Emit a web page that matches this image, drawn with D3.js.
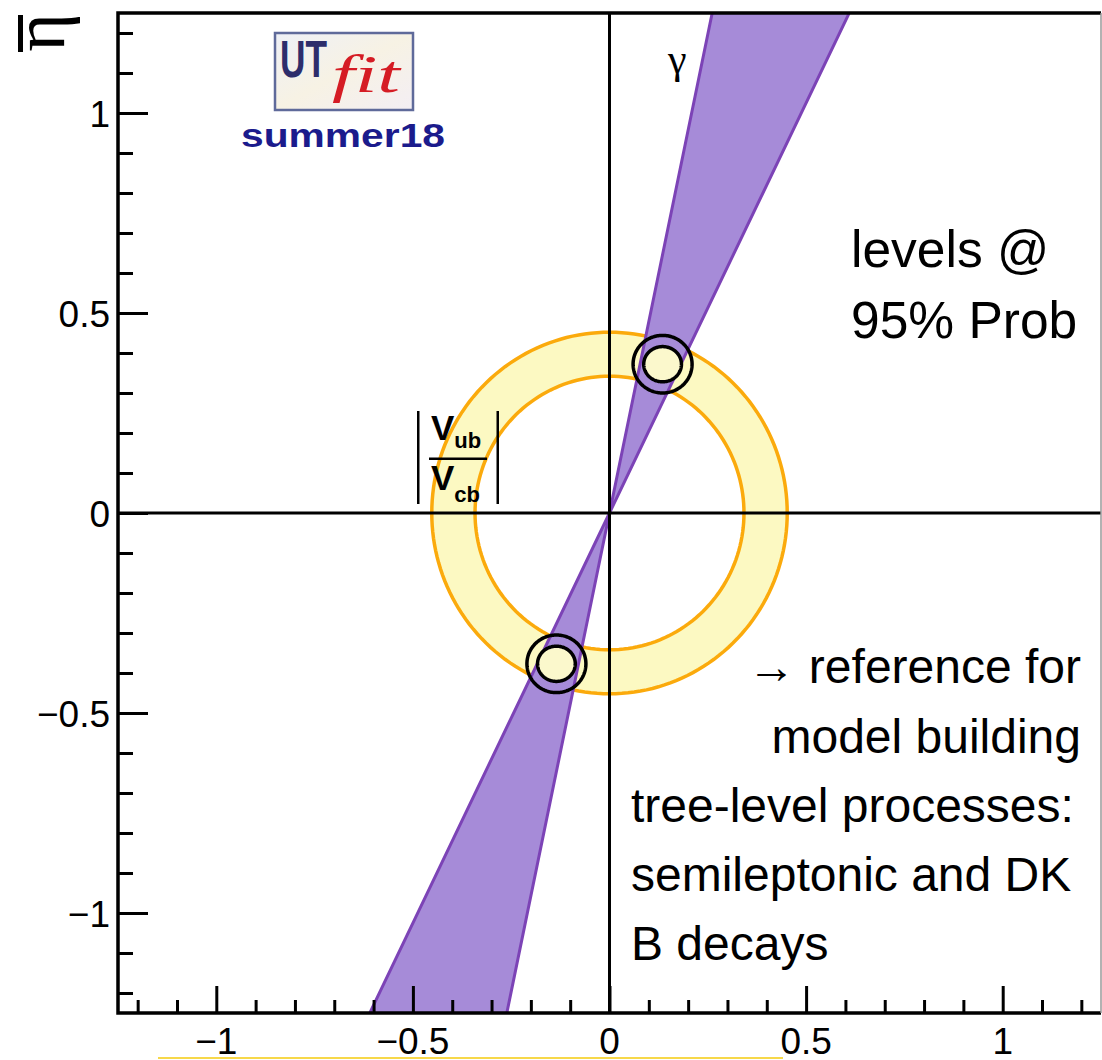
<!DOCTYPE html>
<html lang="en">
<head>
<meta charset="utf-8">
<title>UTfit summer18 - tree level</title>
<script src="https://d3js.org/d3.v7.min.js"></script>
<style>
  body { margin: 0; background: #fff; }
  svg { display: block; }
  text { font-family: "Liberation Sans", Arial, sans-serif; }
</style>
</head>
<body>
<div id="chart"></div>
<script>
// axis ticks
var majorTicks = [-1, -0.5, 0, 0.5, 1];
var tickLabels = ["\u22121", "\u22120.5", "0", "0.5", "1"];
var minorTicks = [-1.2, -1.1, -0.9, -0.8, -0.7, -0.6, -0.4, -0.3, -0.2, -0.1,
                  0.1, 0.2, 0.3, 0.4, 0.6, 0.7, 0.8, 0.9, 1.1, 1.2];

// |Vub/Vcb| ring (inner / outer radius) and gamma band (degrees)
var vubRadii = [0.342, 0.452];
var gammaDeg = [64.0, 78.2];

// combined contours: centres and radii (rx, ry) of outer / inner line
var contourCenters = [[0.135, 0.372], [-0.135, -0.377]];
var contourRx = [0.075, 0.048];
var contourRy = [0.072, 0.044];

// annotations
var notesTop = ["levels @", "95% Prob"];
var notesRight = ["\u2192 reference for", "model building"];
var notesLeft = ["tree-level processes:", "semileptonic and DK", "B decays"];

var width = 1102, height = 1060;
var pLeft = 118, pRight = 1101, pTop = 13, pBottom = 1013;

var svg = d3.select("#chart").append("svg")
    .attr("width", width)
    .attr("height", height);

var x = d3.scaleLinear().domain([-1.25, 1.25]).range([pLeft, pRight]);
var y = d3.scaleLinear().domain([-1.25, 1.25]).range([pBottom, pTop]);

var defs = svg.append("defs");
defs.append("clipPath").attr("id", "plotclip")
  .append("rect")
    .attr("x", pLeft).attr("y", pTop)
    .attr("width", pRight - pLeft).attr("height", pBottom - pTop);

var plot = svg.append("g").attr("clip-path", "url(#plotclip)");

var angles = d3.range(0, 361, 2).map(function(a) { return a * Math.PI / 180; });
function ellipse(cx, cy, rx, ry) {
  return angles.map(function(t) { return [x(cx + rx * Math.cos(t)), y(cy + ry * Math.sin(t))]; });
}
var line = d3.line().curve(d3.curveLinearClosed);

// ring
var ringPath = line(ellipse(0, 0, vubRadii[1], vubRadii[1])) + line(ellipse(0, 0, vubRadii[0], vubRadii[0]));
plot.append("path")
    .attr("d", ringPath)
    .attr("fill", "#fcf9c2")
    .attr("fill-rule", "evenodd")
    .attr("stroke", "#fbaa0c")
    .attr("stroke-width", 3.5);

// gamma band (and its mirror through the origin)
var R = 3;
[0, 180].forEach(function(off) {
  var a0 = (gammaDeg[0] + off) * Math.PI / 180, a1 = (gammaDeg[1] + off) * Math.PI / 180;
  var pts = [[0, 0], [R * Math.cos(a0), R * Math.sin(a0)], [R * Math.cos(a1), R * Math.sin(a1)]];
  plot.append("path")
      .attr("d", line(pts.map(function(p) { return [x(p[0]), y(p[1])]; })))
      .attr("fill", "#a68bd8")
      .attr("stroke", "#7c43b6")
      .attr("stroke-width", 3)
      .attr("stroke-linejoin", "round");
});

// contours
contourCenters.forEach(function(c) {
  plot.append("path")
      .attr("d", line(ellipse(c[0], c[1], contourRx[0], contourRy[0])))
      .attr("fill", "none")
      .attr("stroke", "#000")
      .attr("stroke-width", 3.5);
  plot.append("path")
      .attr("d", line(ellipse(c[0], c[1], contourRx[1], contourRy[1])))
      .attr("fill", "#fbf8cc")
      .attr("stroke", "#000")
      .attr("stroke-width", 3.5);
});

// zero lines
svg.append("line")
    .attr("x1", pLeft).attr("x2", pRight).attr("y1", y(0)).attr("y2", y(0))
    .attr("stroke", "#000").attr("stroke-width", 3);
svg.append("line")
    .attr("x1", x(0)).attr("x2", x(0)).attr("y1", pTop).attr("y2", pBottom)
    .attr("stroke", "#000").attr("stroke-width", 3);

// frame
svg.append("path")
    .attr("d", "M" + pRight + "," + pTop + "H" + pLeft + "V" + pBottom + "H" + pRight)
    .attr("fill", "none").attr("stroke", "#000").attr("stroke-width", 3.5);
svg.append("line")
    .attr("x1", pRight).attr("x2", pRight).attr("y1", pTop).attr("y2", pBottom)
    .attr("stroke", "#999").attr("stroke-width", 1.5);

// x ticks
var xAxisMajor = d3.axisTop(x).tickValues(majorTicks).tickSize(27).tickFormat("");
var xAxisMinor = d3.axisTop(x).tickValues(minorTicks).tickSize(13).tickFormat("");
[xAxisMajor, xAxisMinor].forEach(function(ax) {
  var g = svg.append("g").attr("transform", "translate(0," + pBottom + ")").call(ax);
  g.select(".domain").remove();
  g.selectAll("line").attr("stroke", "#000").attr("stroke-width", 3);
});
svg.selectAll(".xlab").data(majorTicks).enter().append("text")
    .attr("class", "xlab")
    .attr("x", function(d) { return x(d); })
    .attr("y", pBottom + 41)
    .attr("text-anchor", "middle")
    .attr("font-size", 37)
    .text(function(d, i) { return tickLabels[i]; });

// y ticks
var yAxisMajor = d3.axisRight(y).tickValues(majorTicks).tickSize(30).tickFormat("");
var yAxisMinor = d3.axisRight(y).tickValues(minorTicks).tickSize(15).tickFormat("");
[yAxisMajor, yAxisMinor].forEach(function(ax) {
  var g = svg.append("g").attr("transform", "translate(" + pLeft + ",0)").call(ax);
  g.select(".domain").remove();
  g.selectAll("line").attr("stroke", "#000").attr("stroke-width", 3);
});
svg.selectAll(".ylab").data(majorTicks).enter().append("text")
    .attr("class", "ylab")
    .attr("x", pLeft - 8)
    .attr("y", function(d) { return y(d) + 14; })
    .attr("text-anchor", "end")
    .attr("font-size", 37)
    .text(function(d, i) { return tickLabels[i]; });

// y title: eta-bar, rotated
var yt = svg.append("g").attr("transform", "translate(64," + pTop + ") rotate(-90)");
yt.append("text")
    .attr("text-anchor", "end")
    .style("font-family", "'Liberation Serif', serif")
    .attr("font-size", 74)
    .text("\u03b7");
yt.append("rect")
    .attr("x", -39).attr("y", -46)
    .attr("width", 37).attr("height", 5)
    .attr("fill", "#000");

// gamma label
svg.append("text")
    .attr("x", 668).attr("y", 73)
    .style("font-family", "'Liberation Serif', serif")
    .attr("font-size", 42)
    .text("\u03b3");

// |Vub/Vcb| label
var vl = svg.append("g");
vl.append("rect").attr("x", 417).attr("y", 411).attr("width", 2.5).attr("height", 93).attr("fill", "#000");
vl.append("rect").attr("x", 496.5).attr("y", 411).attr("width", 2.5).attr("height", 93).attr("fill", "#000");
vl.append("rect").attr("x", 429).attr("y", 457.5).attr("width", 58).attr("height", 2.5).attr("fill", "#000");
var t1 = vl.append("text").attr("x", 431).attr("y", 440).attr("font-weight", "bold");
t1.append("tspan").attr("font-size", 35).text("V");
t1.append("tspan").attr("font-size", 22).attr("dy", 8).text("ub");
var t2 = vl.append("text").attr("x", 431).attr("y", 490).attr("font-weight", "bold");
t2.append("tspan").attr("font-size", 35).text("V");
t2.append("tspan").attr("font-size", 22).attr("dy", 12).text("cb");

// logo
var grad = defs.append("linearGradient").attr("id", "logobg").attr("x1", 0).attr("y1", 0).attr("x2", 1).attr("y2", 1);
grad.append("stop").attr("offset", "0%").attr("stop-color", "#eef0f6");
grad.append("stop").attr("offset", "50%").attr("stop-color", "#f7f2e4");
grad.append("stop").attr("offset", "100%").attr("stop-color", "#f3eef4");
svg.append("rect")
    .attr("x", 275).attr("y", 33).attr("width", 138).attr("height", 77)
    .attr("fill", "url(#logobg)")
    .attr("stroke", "#5f6a9a").attr("stroke-width", 2.5);
svg.append("text")
    .attr("x", 280).attr("y", 77)
    .attr("font-weight", "bold").attr("font-size", 52)
    .attr("textLength", 47).attr("lengthAdjust", "spacingAndGlyphs")
    .attr("fill", "#2d2d6b")
    .text("UT");
svg.append("text")
    .attr("x", 332).attr("y", 92)
    .style("font-family", "'Liberation Serif', serif")
    .attr("font-style", "italic").attr("font-size", 52)
    .attr("textLength", 68).attr("lengthAdjust", "spacingAndGlyphs")
    .attr("fill", "#d51c24")
    .text("fit");
svg.append("text")
    .attr("x", 241).attr("y", 147)
    .attr("font-weight", "bold").attr("font-size", 34)
    .attr("textLength", 204).attr("lengthAdjust", "spacingAndGlyphs")
    .attr("fill", "#1b1b8c")
    .text("summer18");

// notes
svg.selectAll(".ntop").data(notesTop).enter().append("text")
    .attr("x", 851)
    .attr("y", function(d, i) { return 267 + i * 71; })
    .attr("font-size", 51.5)
    .text(function(d) { return d; });
svg.selectAll(".nright").data(notesRight).enter().append("text")
    .attr("x", 1081)
    .attr("y", function(d, i) { return 683 + i * 70; })
    .attr("text-anchor", "end")
    .attr("font-size", 48)
    .text(function(d) { return d; });
svg.selectAll(".nleft").data(notesLeft).enter().append("text")
    .attr("x", 631)
    .attr("y", function(d, i) { return 822 + i * 69; })
    .attr("font-size", 48)
    .text(function(d) { return d; });

// thin yellow strip under the x labels
svg.append("line")
    .attr("x1", 158).attr("x2", 783).attr("y1", 1058).attr("y2", 1058)
    .attr("stroke", "#f7d84a").attr("stroke-width", 2);
</script>
</body>
</html>
